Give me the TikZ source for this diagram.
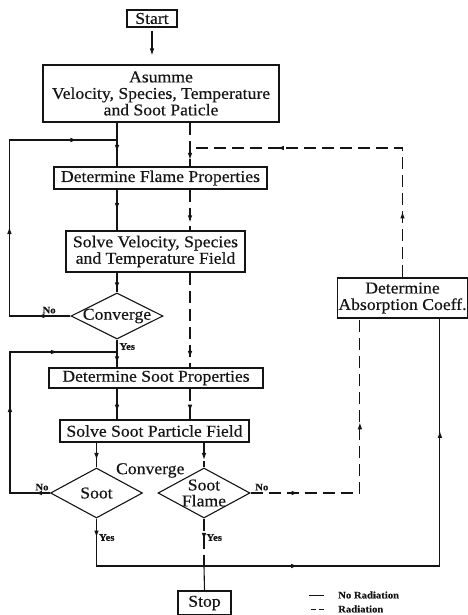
\documentclass[tikz,border=0pt]{standalone}
\usepackage{fontspec}
\setmainfont{Liberation Serif}[FakeStretch=1.07, FakeBold=0.4]
\usetikzlibrary{arrows.meta,shapes.geometric,calc,decorations.markings}
\definecolor{Ink}{HTML}{141414}
\tikzset{
  box/.style={draw=Ink, line width=1.1pt, inner sep=1pt, align=center, text=Ink, font=\fontsize{16.5}{16.5}\selectfont},
  dia/.style={diamond, draw=Ink, line width=1.1pt, inner sep=0pt, minimum width=92pt, minimum height=50pt},
  dtext/.style={text=Ink, align=center, inner sep=0pt, font=\fontsize{16.5}{16}\selectfont},
  lbl/.style={text=Ink, inner sep=2pt, font=\fontsize{10}{11}\selectfont\bfseries},
  wire/.style={draw=Ink, line width=1.1pt},
  rad/.style={wire, dash pattern=on 12pt off 6pt},
  marr/.style={postaction={decorate, decoration={markings, mark=at position #1 with {\arrow{Latex[length=7pt,width=4.6pt]}}}}}
}
\begin{document}
\begin{tikzpicture}[x=1pt, y=-1pt]
\useasboundingbox (0,0) rectangle (467,615);
% the two lanes and the joints
\coordinate (ls) at (117,0);
\coordinate (lr) at (190,0);
\coordinate (jtop) at (117,140);
\coordinate (jmid) at (117,352);
\coordinate (jrad) at (190,148);
\coordinate (jbot) at (204,566);

\node[box, inner sep=0pt, minimum width=50pt, minimum height=17pt] (start) at (152,18.5) {Start};
\node[box, minimum width=236pt, minimum height=57pt] (asume) at (161,93.5) {Asumme\\Velocity, Species, Temperature\\and Soot Paticle};
\node[box, minimum width=213pt, minimum height=22pt] (flame) at (160.5,178) {Determine Flame Properties};
\node[box, minimum width=179pt, minimum height=41pt] (solve) at (155.5,251.5) {Solve Velocity, Species\\and Temperature Field};
\node[dia, minimum height=46pt, label={[dtext]center:Converge}] (conv) at (117,316) {};
\node[box, minimum width=214pt, minimum height=20pt] (sootp) at (156,378) {Determine Soot Properties};
\node[box, minimum width=189pt, minimum height=22pt] (ssolve) at (154.5,431) {Solve Soot Particle Field};
\node[dia, label={[dtext]center:Soot}] (soot) at (96.5,493) {};
\node[dia, label={[dtext]center:{Soot\\Flame}}] (sflame) at (204,493) {};
\node[dtext] (convq) at ($(soot.north)!0.5!(sflame.north)+(0,3)$) {Converge};
\node[box, minimum width=127pt, minimum height=40pt] (absorb) at (402.5,298) {Determine\\Absorption Coeff.};
\node[box, minimum width=53pt, minimum height=24pt] (stop) at (204.5,603) {Stop};

% main flow
\draw[wire, -{Latex[length=7pt,width=4.6pt]}, shorten <=3pt, shorten >=9pt] (start.south) -- (start.south |- asume.north);
\draw[wire, marr=0.67] (asume.south -| ls) -- (flame.north -| ls);
\draw[rad, marr=0.85] (asume.south -| lr) -- (flame.north -| lr);
\draw[wire, marr=0.5] (flame.south -| ls) -- (solve.north -| ls);
\draw[rad, marr=0.8] (flame.south -| lr) -- (solve.north -| lr);
\draw[wire, marr=0.85] (solve.south -| ls) -- (conv.north);
\draw[rad, marr=0.9] (solve.south -| lr) -- (sootp.north -| lr);
\draw[wire, marr=0.85] (conv.south) -- node[lbl, pos=0.25, right] {Yes} (sootp.north -| ls);
\draw[wire, marr=0.75] (sootp.south -| ls) -- (ssolve.north -| ls);
\draw[rad, marr=0.75] (sootp.south -| lr) -- (ssolve.north -| lr);
\draw[wire, marr=0.7] (ssolve.south -| soot.north) -- (soot.north);
\draw[rad, marr=0.7] (ssolve.south -| sflame.north) -- (sflame.north);

% loops back
\draw[wire, marr=33pt, marr=150pt, marr=305pt] (conv.west) -- ++(-61,0) node[lbl, pos=0.35, above] {No} |- (jtop);
\draw[wire, marr=15pt, marr=128pt, marr=229pt] (soot.west) -- ++(-40,0) node[lbl, pos=0.2, above] {No} |- (jmid);
\draw[rad, marr=48pt, marr=180pt] (sflame.east) -- node[lbl, pos=0.13, above] {No} (sflame.east -| absorb.south west) -- ++(23,0) |- ([xshift=23pt]absorb.south west);
\draw[rad, marr=66pt, marr=255pt] (absorb.north) |- (jrad);

% to stop
\draw[wire, marr=19pt, marr=249pt, marr=526pt] (soot.south) -- node[lbl, pos=0.4, right] {Yes} (soot.south |- jbot) -| ([xshift=103pt]absorb.south west);
\draw[rad, marr=0.45] (sflame.south) -- node[lbl, pos=0.4, right] {Yes} (jbot);
\draw[wire] (jbot) -- (stop.north);

% legend
\node[lbl, anchor=west] (lgno) at (336,595) {No Radiation};
\node[lbl, anchor=west] (lgrad) at (336,609) {Radiation};
\draw[wire, line width=1pt] ([xshift=-12pt]lgno.west) -- ++(-15,0);
\draw[wire, line width=1pt, dash pattern=on 5pt off 3pt] ([xshift=-12pt]lgrad.west) -- ++(-15,0);
\end{tikzpicture}
\end{document}
